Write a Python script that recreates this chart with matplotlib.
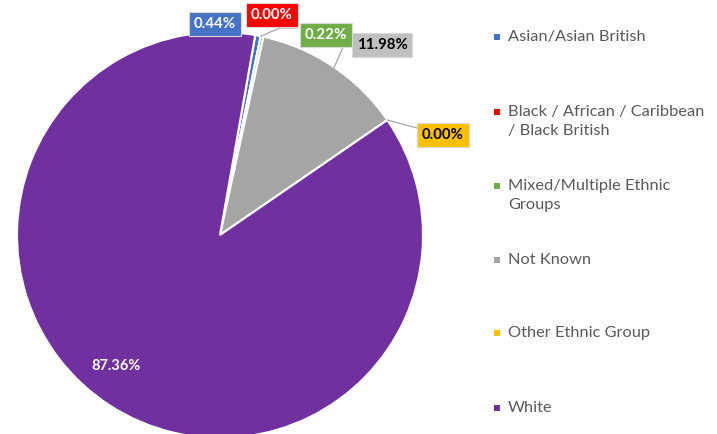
import numpy as np
import matplotlib.pyplot as plt

categories = ['Asian/Asian British', 'Black / African / Caribbean\n/ Black British',
              'Mixed/Multiple Ethnic\nGroups', 'Not Known', 'Other Ethnic Group', 'White']
values = [0.44, 0.00, 0.22, 11.98, 0.00, 87.36]
colors = ['#4472C4', '#FF0000', '#70AD47', '#A5A5A5', '#FFC000', '#7030A0']

W, H = 717, 434
fig = plt.figure(figsize=(W / 100, H / 100), dpi=100)
ax = fig.add_axes([0, 0, 1, 1])

cx, cy, r = 220, H - 235, 203
wedges, _ = ax.pie(values, colors=colors, startangle=80, counterclock=False,
                   center=(cx, cy), radius=r, frame=True,
                   wedgeprops=dict(edgecolor='white', linewidth=1.5))
ax.set_xlim(0, W)
ax.set_ylim(0, H)
ax.set_aspect('equal')
ax.axis('off')

font = 'Lato'

# label boxes: (x, y from top, box colour, text colour)
label_pos = [(215, 24, '#4472C4', 'white'),
             (272, 15, '#FF0000', 'white'),
             (326, 35, '#70AD47', 'white'),
             (382, 45, '#BFBFBF', 'black'),
             (443, 135, '#FFC000', 'black')]

# leader lines for the small slices
leaders = {
    1: [(280, 28), (297, 28)],
    2: [(347, 38)],
    4: [(417, 128), (420, 128)],
}

for i, (lx, ly, bc, tc) in enumerate(label_pos):
    w = wedges[i]
    if i in leaders:
        mid = np.deg2rad((w.theta1 + w.theta2) / 2)
        ex, ey = cx + r * np.cos(mid), cy + r * np.sin(mid)
        if i == 2:
            # green leader starts on the grey slice
            ex, ey = 333, H - 70
        xs = [ex] + [p[0] for p in leaders[i]]
        ys = [ey] + [H - p[1] for p in leaders[i]]
        ax.plot(xs, ys, color='#A6A6A6', lw=0.9, zorder=1)
    ax.text(lx, H - ly, f'{values[i]:.2f}%', ha='center', va='center', color=tc,
            fontsize=10.8, fontweight='bold', family=font,
            bbox=dict(boxstyle='square,pad=0.32', fc=bc, ec='#D9D9D9', lw=0.8))

ax.text(116, H - 366, f'{values[5]:.2f}%', ha='center', va='center', color='white',
        fontsize=10.5, fontweight='bold', family=font)

# legend
leg_y = [37, 112, 186, 260, 333, 408]
for name, c, y in zip(categories, colors, leg_y):
    ax.scatter([497], [H - y], marker='s', s=18, color=c, linewidths=0)
    ax.text(508, H - y + 7, name, ha='left', va='top', color='#595959',
            fontsize=11.8, family=font, linespacing=1.45)

fig.savefig('out.png', dpi=100)
